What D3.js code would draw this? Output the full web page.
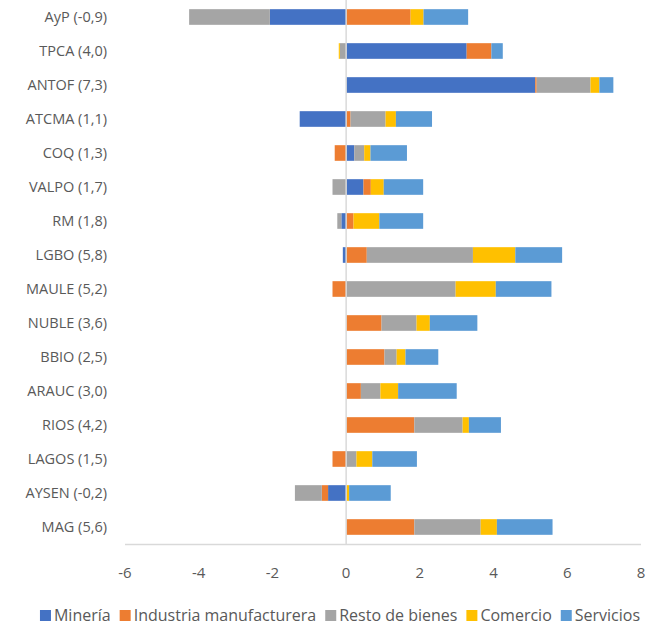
<!DOCTYPE html>
<html>
<head>
<meta charset="utf-8">
<script src="https://cdn.jsdelivr.net/npm/d3@7"></script>
<style>
  body { margin: 0; background: #fff; }
  svg { display: block; font-family: "Open Sans", sans-serif; }
</style>
</head>
<body>
<svg width="647" height="628"></svg>
<script>
// categories (regions) and series values
var categories = ["AyP (-0,9)", "TPCA (4,0)", "ANTOF (7,3)", "ATCMA (1,1)", "COQ (1,3)", "VALPO (1,7)",
    "RM (1,8)", "LGBO (5,8)", "MAULE (5,2)", "NUBLE (3,6)", "BBIO (2,5)", "ARAUC (3,0)",
    "RIOS (4,2)", "LAGOS (1,5)", "AYSEN (-0,2)", "MAG (5,6)"];
var mineria   = [-2.07, 3.27, 5.13, -1.26, 0.22, 0.47, -0.13, -0.09, 0, 0, 0, 0, 0, 0, -0.49, 0];
var industria = [1.75, 0.67, 0.04, 0.12, -0.31, 0.20, 0.20, 0.56, -0.37, 0.96, 1.04, 0.40, 1.85, -0.37, -0.17, 1.85];
var resto     = [-2.19, -0.17, 1.46, 0.95, 0.27, -0.37, -0.11, 2.88, 2.97, 0.95, 0.33, 0.53, 1.31, 0.28, -0.73, 1.80];
var comercio  = [0.35, -0.03, 0.24, 0.28, 0.17, 0.35, 0.70, 1.15, 1.09, 0.36, 0.24, 0.48, 0.17, 0.43, 0.08, 0.44];
var servicios = [1.21, 0.31, 0.38, 0.98, 0.99, 1.07, 1.19, 1.27, 1.51, 1.29, 0.89, 1.59, 0.87, 1.21, 1.13, 1.51];
var seriesNames = ["Minería", "Industria manufacturera", "Resto de bienes", "Comercio", "Servicios"];
var seriesColors = ["#4472C4", "#ED7D31", "#A5A5A5", "#FFC000", "#5B9BD5"];
var xTicks = [-6, -4, -2, 0, 2, 4, 6, 8];

var svg = d3.select("svg");

// build rows for the stack
var seriesValues = [mineria, industria, resto, comercio, servicios];
var rows = categories.map(function(c, i) {
    var r = {name: c};
    seriesNames.forEach(function(s, j) { r[s] = seriesValues[j][i]; });
    return r;
});

var stacked = d3.stack()
    .keys(seriesNames)
    .offset(d3.stackOffsetDiverging)(rows);

var x = d3.scaleLinear().domain([-6, 8]).range([125, 641]);
var y = d3.scaleBand().domain(categories).range([0, 544]).paddingInner(0.54).paddingOuter(0.27);

// bars
svg.append("g")
  .selectAll("g")
  .data(stacked)
  .enter().append("g")
    .attr("fill", function(d, i) { return seriesColors[i]; })
  .selectAll("rect")
  .data(function(d) { return d; })
  .enter().append("rect")
    .attr("x", function(d) { return x(Math.min(d[0], d[1])); })
    .attr("width", function(d) { return Math.abs(x(d[1]) - x(d[0])); })
    .attr("y", function(d) { return y(d.data.name); })
    .attr("height", y.bandwidth());

// axis lines
svg.append("line")
    .attr("x1", x(0)).attr("x2", x(0))
    .attr("y1", 0).attr("y2", 544)
    .attr("stroke", "#d9d9d9").attr("stroke-width", 1.5);
svg.append("line")
    .attr("x1", x(-6)).attr("x2", x(8))
    .attr("y1", 544.5).attr("y2", 544.5)
    .attr("stroke", "#d9d9d9").attr("stroke-width", 1.5);

// category labels
svg.append("g")
  .selectAll("text")
  .data(categories)
  .enter().append("text")
    .attr("x", 107)
    .attr("y", function(d) { return y(d) + y.bandwidth() / 2; })
    .attr("dy", "0.36em")
    .attr("text-anchor", "end")
    .attr("fill", "#595959")
    .style("font-size", "14.5px")
    .text(function(d) { return d; });

// x tick labels
svg.append("g")
  .selectAll("text")
  .data(xTicks)
  .enter().append("text")
    .attr("x", function(d) { return x(d); })
    .attr("y", 578)
    .attr("text-anchor", "middle")
    .attr("fill", "#595959")
    .style("font-size", "15px")
    .text(function(d) { return d; });

// legend
var legend = svg.append("g");
var lx = 0;
seriesNames.forEach(function(s, i) {
    var item = legend.append("g").attr("transform", "translate(" + lx + ",0)");
    item.append("rect").attr("x", 0).attr("y", -11).attr("width", 11).attr("height", 11)
        .attr("fill", seriesColors[i]);
    var t = item.append("text").attr("x", 14).attr("y", 0)
        .attr("fill", "#595959").style("font-size", "16px").text(s);
    lx += 14 + t.node().getComputedTextLength() + 9;
});
legend.attr("transform", "translate(" + (340 - (lx - 9) / 2) + ",621)");
</script>
</body>
</html>
